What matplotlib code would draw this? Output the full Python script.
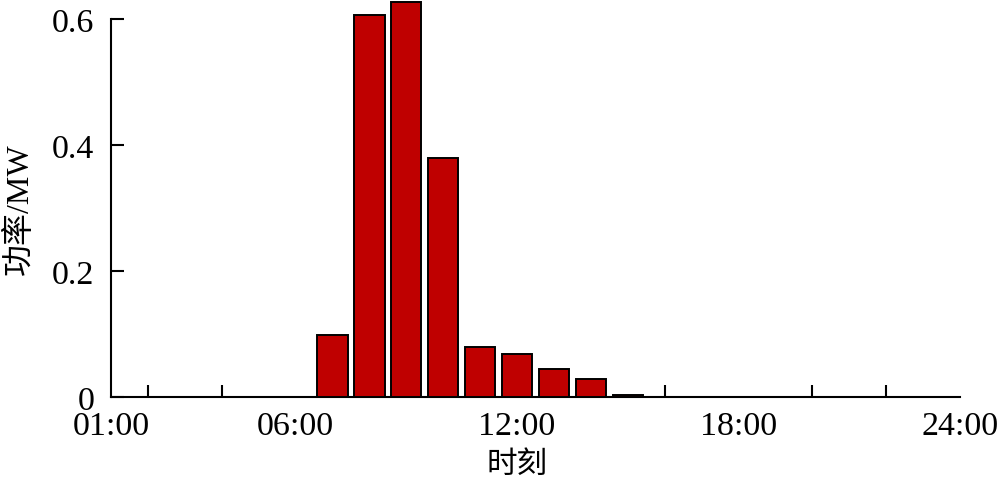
import matplotlib
matplotlib.use('Agg')
import matplotlib.pyplot as plt

plt.rcParams['font.family'] = ['Liberation Serif', 'Noto Sans CJK SC']

# Data
hours = [7, 8, 9, 10, 11, 12, 13, 14, 15]
power = [0.098, 0.607, 0.627, 0.380, 0.079, 0.069, 0.044, 0.029, 0.003]
label_hours = [1, 6, 12, 18, 24]
label_text = ['01:00', '06:00', '12:00', '18:00', '24:00']
y_ticks = [0, 0.2, 0.4, 0.6]
y_labels = ['0', '0.2', '0.4', '0.6']

fig = plt.figure(figsize=(10, 4.85), dpi=100)
ax = fig.add_axes([0.111, 87 / 485, 0.849, 378 / 485])

# position 0 corresponds to 01:00
xpos = [h - 1 for h in hours]
ax.bar(xpos, power, width=0.82, color='#BF0000', edgecolor='black',
       linewidth=1.4, clip_on=False, zorder=3)

ax.set_xlim(0, 23)
ax.set_ylim(0, 0.6)

for side in ['top', 'right']:
    ax.spines[side].set_visible(False)
for side in ['left', 'bottom']:
    ax.spines[side].set_linewidth(1.5)

ax.set_xticks([h - 1 for h in label_hours])
ax.set_xticklabels(label_text)
ax.set_xticks(list(range(1, 24, 2)), minor=True)
ax.tick_params(axis='x', which='major', length=0, pad=10, labelsize=24.5)
ax.tick_params(axis='x', which='minor', direction='in', length=9, width=1.5)

ax.set_yticks(y_ticks)
ax.set_yticklabels(y_labels)
ax.tick_params(axis='y', direction='in', length=9, width=1.5, pad=12, labelsize=24.5)

ax.set_xlabel('时刻', fontsize=22)
ax.xaxis.set_label_coords(0.478, -0.14)
ax.set_ylabel('功率/MW', fontsize=23)
ax.yaxis.set_label_coords(-0.09, 0.5)

fig.savefig('out.png', dpi=100)
